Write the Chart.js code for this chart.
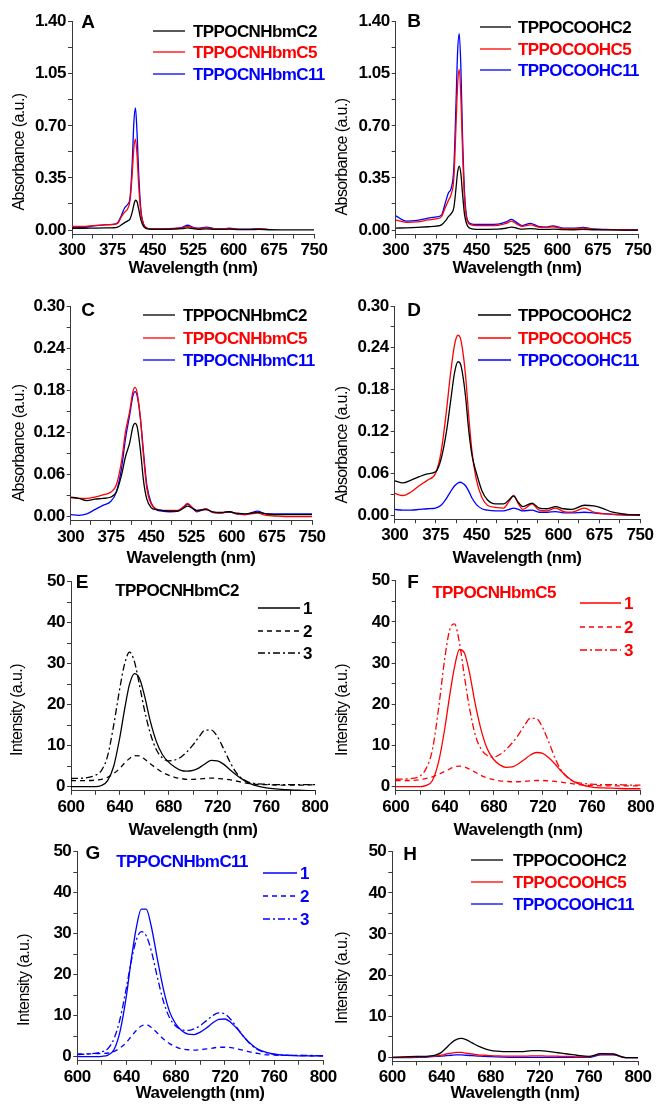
<!DOCTYPE html>
<html>
<head>
<meta charset="utf-8">
<script src="https://cdn.jsdelivr.net/npm/chart.js@4.4.1/dist/chart.umd.min.js"></script>
<style>
  body { margin: 0; background: #fff; }
  #wrap { position: relative; width: 658px; height: 1107px; overflow: hidden; }
  canvas { position: absolute; }
</style>
</head>
<body>
<div id="wrap"></div>
<script>
// ---- data ----
const waveAB = [300,320,340,360,375,385,392,398,403,408,412,415,418,421,424,428,433,440,450,470,490,505,515,525,535,550,565,580,592,610,630,648,665,690,720,750];
const aC2  = [0.012,0.012,0.013,0.014,0.015,0.02,0.035,0.05,0.06,0.075,0.12,0.17,0.2,0.19,0.14,0.07,0.025,0.008,0.005,0.005,0.006,0.009,0.014,0.009,0.005,0.008,0.004,0.004,0.006,0.003,0.003,0.004,0.002,0.001,0.001,0.001];
const aC5  = [0.025,0.024,0.03,0.035,0.037,0.045,0.09,0.12,0.14,0.2,0.38,0.55,0.61,0.5,0.3,0.12,0.04,0.012,0.008,0.008,0.01,0.015,0.025,0.015,0.01,0.015,0.008,0.007,0.01,0.005,0.005,0.008,0.004,null,null,null];
const aC11 = [0.02,0.018,0.028,0.035,0.038,0.05,0.1,0.15,0.17,0.22,0.45,0.72,0.82,0.65,0.38,0.14,0.04,0.012,0.008,0.008,0.011,0.018,0.032,0.018,0.012,0.02,0.01,0.008,0.012,0.006,0.006,0.01,0.004,null,null,null];
const bC2  = [0.013,0.015,0.018,0.022,0.026,0.035,0.06,0.09,0.11,0.15,0.28,0.39,0.43,0.38,0.25,0.1,0.03,0.01,0.005,0.005,0.006,0.012,0.02,0.012,0.006,0.01,0.005,0.004,0.006,0.003,0.002,0.004,0.002,0.001,0,0];
const bC5  = [0.067,0.052,0.055,0.068,0.075,0.09,0.15,0.2,0.24,0.35,0.7,0.98,1.08,0.9,0.55,0.2,0.06,0.035,0.03,0.03,0.032,0.045,0.06,0.04,0.025,0.035,0.02,0.018,0.022,0.01,0.009,0.013,0.006,0.003,0.002,0.001];
const bC11 = [0.095,0.06,0.065,0.08,0.088,0.1,0.18,0.25,0.28,0.42,0.85,1.2,1.32,1.1,0.65,0.24,0.07,0.042,0.038,0.038,0.04,0.055,0.072,0.05,0.03,0.045,0.025,0.02,0.028,0.013,0.012,0.018,0.008,0.004,0.002,0.001];

const waveCD = [300,315,330,345,360,375,385,395,402,410,416,420,424,430,436,442,450,460,470,485,500,510,518,527,535,552,565,580,595,610,625,648,665,680,700,725,750];
const cC2  = [0.028,0.026,0.023,0.025,0.026,0.028,0.035,0.06,0.085,0.105,0.128,0.133,0.128,0.095,0.05,0.025,0.013,0.01,0.009,0.008,0.008,0.012,0.015,0.012,0.009,0.01,0.007,0.006,0.007,0.005,0.004,0.006,0.004,0.003,0.003,0.003,0.003];
const cC5  = [0.027,0.026,0.026,0.028,0.031,0.035,0.045,0.08,0.12,0.15,0.178,0.184,0.176,0.14,0.085,0.04,0.018,0.011,0.009,0.009,0.009,0.014,0.019,0.013,0.008,0.011,0.006,0.005,0.007,0.004,0.003,0.005,0.002,0.001,0,0,0];
const cC11 = [0.003,0.002,0.004,0.01,0.016,0.022,0.035,0.07,0.11,0.145,0.172,0.178,0.172,0.14,0.09,0.045,0.02,0.01,0.008,0.007,0.008,0.013,0.018,0.012,0.007,0.011,0.006,0.005,0.007,0.004,0.003,0.008,0.004,0.004,0.004,0.004,0.004];
const dC2  = [0.049,0.046,0.05,0.055,0.059,0.062,0.08,0.12,0.16,0.205,0.22,0.218,0.205,0.17,0.12,0.085,0.06,0.035,0.022,0.016,0.016,0.022,0.027,0.018,0.012,0.017,0.01,0.009,0.012,0.009,0.008,0.014,0.013,0.01,0.004,0.001,0];
const dC5  = [0.031,0.028,0.033,0.042,0.05,0.06,0.09,0.15,0.2,0.245,0.258,0.255,0.24,0.2,0.14,0.09,0.05,0.025,0.014,0.011,0.01,0.02,0.028,0.016,0.008,0.016,0.007,0.006,0.01,0.005,0.004,0.01,0.004,0.002,0.001,0,0];
const dC11 = [0.008,0.007,0.007,0.008,0.009,0.01,0.014,0.024,0.033,0.042,0.046,0.047,0.046,0.042,0.034,0.024,0.015,0.009,0.007,0.006,0.006,0.008,0.01,0.008,0.006,0.007,0.004,0.004,0.005,0.003,0.003,0.004,0.003,0.002,0.001,0,0];

const waveEH = [600,610,620,625,630,635,640,644,648,652,656,660,665,670,675,680,685,690,695,700,705,710,715,720,725,730,735,740,745,750,760,770,780,790,800];
const e1 = [0,0,0,0.3,1.5,5,12,19,25,27.6,26.5,22.5,16,11,7.8,6,4.8,4,3.8,4,4.6,5.6,6.4,6.3,5.5,4.2,3,1.9,1,0.4,-0.3,-0.6,-0.8,-0.9,-1];
const e2 = [1.5,1.5,1.6,1.8,2.3,3.2,4.5,5.8,6.9,7.6,7.5,6.8,5.6,4.5,3.5,2.8,2.3,2,1.8,1.8,1.9,2,2.1,2,1.9,1.7,1.4,1.1,0.8,0.6,0.5,0.4,0.4,0.4,0.5];
const e3 = [2,2.1,2.8,4,7.5,15,24,30,32.8,30.5,25,19,13,9,7,6.3,6.5,7.2,8.5,10.2,12.2,13.8,13.8,12.2,9.3,6.2,3.6,2,1.2,0.8,0.6,0.5,0.5,0.5,0.5];
const f1 = [0,0,0,0.3,1.5,6,14,22,29,33.3,32.5,28,20,13.5,9,6.6,5.3,4.7,4.8,5.5,6.6,7.7,8.3,8.1,7,5.5,3.8,2.4,1.3,0.6,-0.1,-0.3,-0.4,-0.5,-0.5];
const f2 = [1.5,1.5,1.7,2,2.4,3,3.7,4.3,4.8,5,4.8,4.3,3.5,2.7,2.1,1.7,1.4,1.3,1.2,1.2,1.3,1.4,1.5,1.5,1.4,1.3,1.1,0.9,0.7,0.5,0.3,0.2,0.2,0.2,0.2];
const f3 = [1.8,1.9,2.6,4.5,9,19,31,38,39.5,35,27,19.5,12.5,9,7.5,7.2,7.8,9,10.6,12.5,14.8,16.6,16.5,14.3,10.8,7,4,2.3,1.3,0.9,0.6,0.5,0.5,0.4,0.4];
const g1 = [0,0,0.1,0.4,1.8,6.5,15,24,31.5,36,36,32,24,16.5,11,8,6.3,5.5,5.4,6,7,8.2,9.1,9.2,8.3,6.8,5,3.4,2.2,1.4,0.6,0.3,0.2,0.2,0.2];
const g2 = [0.7,0.7,0.8,0.9,1.3,2.2,3.5,5,6.4,7.5,7.8,7.2,5.8,4.3,3.2,2.4,1.9,1.7,1.6,1.7,1.9,2.1,2.3,2.3,2.2,1.9,1.6,1.2,0.9,0.6,0.4,0.3,0.3,0.2,0.2];
const g3 = [0.5,0.7,1.2,2,4.5,9.5,17,23.5,28.5,30.5,29.5,26,19.5,13.5,9.5,7.5,6.6,6.4,6.8,7.6,8.8,10,10.7,10.4,9,7,5,3.3,2,1.3,0.6,0.4,0.3,0.3,0.2];
const hC2  = [0,0.1,0.2,0.2,0.3,0.5,1.2,2.3,3.5,4.3,4.6,4.3,3.5,2.7,2.1,1.7,1.5,1.4,1.4,1.4,1.4,1.5,1.6,1.6,1.5,1.3,1.1,0.9,0.7,0.5,0.2,0.9,0.8,-0.1,-0.1];
const hC5  = [0,0,0.1,0.1,0.2,0.3,0.5,0.8,1,1.2,1.2,1,0.8,0.6,0.5,0.4,0.35,0.3,0.3,0.3,0.3,0.3,0.35,0.35,0.3,0.3,0.25,0.2,0.2,0.1,0.1,0.8,0.7,-0.1,-0.1];
const hC11 = [-0.1,-0.1,0,0,0.1,0.2,0.3,0.4,0.5,0.6,0.6,0.5,0.4,0.3,0.2,0.15,0.1,0.05,0,0,0,0,0,0,0,0,0,0,0,0,0,0.6,0.6,-0.1,-0.1];

const amideNames = ['TPPOCNHbmC2', 'TPPOCNHbmC5', 'TPPOCNHbmC11'];
const esterNames = ['TPPOCOOHC2', 'TPPOCOOHC5', 'TPPOCOOHC11'];
const runNames = ['1', '2', '3'];

// ---- layout / styling ----
const FONT = "'Liberation Sans', Arial, Helvetica, sans-serif";
const BLACK = '#000000', RED = '#ff0000', BLUE = '#0000ff';
const SOLID = [], DASH = [5, 4], DASHDOT = [7, 3, 2, 3];

function pts(xs, ys) {
  return xs.map((x, i) => ({ x: x, y: ys[i] }));
}

function ds(label, xs, ys, color, dash) {
  return {
    label: label, data: pts(xs, ys), borderColor: color, backgroundColor: color,
    borderWidth: 1.3, borderDash: dash, pointRadius: 0, fill: false,
    cubicInterpolationMode: 'monotone', spanGaps: false
  };
}

const L = [0, 345], R = [329, 329]; // canvas x, width for left / right column

const panels = [
  { letter: 'A', box: [0, 0, 345, 285], area: [72, 21.7, 314, 234.5], y: [-0.03, 1.4, 0.175, 0.35, 2],
    x: [300, 750, 37.5, 75], ytitle: 'Absorbance (a.u.)', letterPos: [88, 23], xt: [193, 268], yt: [20, 152],
    sets: [ds(amideNames[0], waveAB, aC2, BLACK, SOLID), ds(amideNames[1], waveAB, aC5, RED, SOLID), ds(amideNames[2], waveAB, aC11, BLUE, SOLID)],
    legend: { x1: 153, x2: 185, tx: 193, ys: [31, 52, 74] } },
  { letter: 'B', box: [329, 0, 329, 285], area: [395.7, 21.7, 638, 234.5], y: [-0.03, 1.4, 0.175, 0.35, 2],
    x: [300, 750, 37.5, 75], ytitle: 'Absorbance (a.u.)', letterPos: [414, 22], xt: [517, 268], yt: [343, 157],
    sets: [ds(esterNames[0], waveAB, bC2, BLACK, SOLID), ds(esterNames[1], waveAB, bC5, RED, SOLID), ds(esterNames[2], waveAB, bC11, BLUE, SOLID)],
    legend: { x1: 480, x2: 511, tx: 518, ys: [27, 49, 70] } },
  { letter: 'C', box: [0, 283, 345, 290], area: [70.7, 306, 312, 520.9], y: [-0.006, 0.3, 0.03, 0.06, 2],
    x: [300, 750, 37.5, 75], ytitle: 'Absorbance (a.u.)', letterPos: [88, 311], xt: [191, 558], yt: [20, 443],
    sets: [ds(amideNames[0], waveCD, cC2, BLACK, SOLID), ds(amideNames[1], waveCD, cC5, RED, SOLID), ds(amideNames[2], waveCD, cC11, BLUE, SOLID)],
    legend: { x1: 143, x2: 175, tx: 183, ys: [315, 338, 360] } },
  { letter: 'D', box: [329, 283, 329, 290], area: [394.7, 306, 640, 519.2], y: [-0.006, 0.3, 0.03, 0.06, 2],
    x: [300, 750, 37.5, 75], ytitle: 'Absorbance (a.u.)', letterPos: [414, 311], xt: [517, 558], yt: [343, 445],
    sets: [ds(esterNames[0], waveCD, dC2, BLACK, SOLID), ds(esterNames[1], waveCD, dC5, RED, SOLID), ds(esterNames[2], waveCD, dC11, BLUE, SOLID)],
    legend: { x1: 478, x2: 511, tx: 518, ys: [315, 338, 360] } },
  { letter: 'E', box: [0, 560, 345, 280], area: [71, 581.7, 315, 790.8], y: [-1, 50, 5, 10, 0],
    x: [600, 800, 20, 40], ytitle: 'Intensity (a.u.)', letterPos: [82, 583], xt: [193, 830], yt: [18, 710],
    sub: { text: amideNames[0], color: BLACK, x: 177, y: 591 },
    sets: [ds(runNames[0], waveEH, e1, BLACK, SOLID), ds(runNames[1], waveEH, e2, BLACK, DASH), ds(runNames[2], waveEH, e3, BLACK, DASHDOT)],
    legend: { x1: 258, x2: 300, tx: 303, ys: [608, 631, 653] } },
  { letter: 'F', box: [329, 560, 329, 280], area: [395.7, 580.7, 640.7, 790.8], y: [-1, 50, 5, 10, 0],
    x: [600, 800, 20, 40], ytitle: 'Intensity (a.u.)', letterPos: [413, 583], xt: [518, 830], yt: [343, 710],
    sub: { text: amideNames[1], color: RED, x: 494, y: 593 },
    sets: [ds(runNames[0], waveEH, f1, RED, SOLID), ds(runNames[1], waveEH, f2, RED, DASH), ds(runNames[2], waveEH, f3, RED, DASHDOT)],
    legend: { x1: 580, x2: 621, tx: 624, ys: [603, 627, 650] } },
  { letter: 'G', box: [0, 830, 345, 277], area: [77.3, 851.7, 323.3, 1060.8], y: [-1, 50, 5, 10, 0],
    x: [600, 800, 20, 40], ytitle: 'Intensity (a.u.)', letterPos: [93, 854], xt: [200, 1093], yt: [25, 980],
    sub: { text: amideNames[2], color: BLUE, x: 182, y: 862 },
    sets: [ds(runNames[0], waveEH, g1, BLUE, SOLID), ds(runNames[1], waveEH, g2, BLUE, DASH), ds(runNames[2], waveEH, g3, BLUE, DASHDOT)],
    legend: { x1: 263, x2: 297, tx: 300, ys: [873, 896, 919] } },
  { letter: 'H', box: [329, 830, 329, 277], area: [392.3, 851.7, 638, 1061.4], y: [-1, 50, 5, 10, 0],
    x: [600, 800, 20, 40], ytitle: 'Intensity (a.u.)', letterPos: [410, 855], xt: [515, 1093], yt: [343, 978],
    sets: [ds(esterNames[0], waveEH, hC2, BLACK, SOLID), ds(esterNames[1], waveEH, hC5, RED, SOLID), ds(esterNames[2], waveEH, hC11, BLUE, SOLID)],
    legend: { x1: 471, x2: 503, tx: 513, ys: [860, 882, 904] } }
];

function axis(min, max, step, major, digits, fit) {
  return {
    type: 'linear', min: min, max: max,
    border: { display: true, color: '#3a3a3a', width: 1 },
    grid: { drawOnChartArea: false, drawTicks: true, tickLength: 4, tickColor: '#3a3a3a' },
    ticks: {
      stepSize: step, includeBounds: false, autoSkip: false, maxRotation: 0, minRotation: 0,
      padding: 2, color: '#000',
      font: { family: FONT, size: 17, weight: 'bold' },
      callback: function (v) {
        if (Math.abs(v / major - Math.round(v / major)) > 1e-6) return '';
        if (Math.abs(v) < 1e-9) v = 0;
        return v.toFixed(digits);
      }
    },
    afterFit: fit
  };
}

function textPlugin(p) {
  return {
    id: 'panelText' + p.letter,
    beforeDraw(chart) {
      chart.ctx.letterSpacing = '-0.5px';
    },
    afterDraw(chart) {
      const ctx = chart.ctx;
      const ox = p.box[0], oy = p.box[1];
      ctx.save();
      ctx.textBaseline = 'middle';
      ctx.fillStyle = '#000';

      // panel letter
      ctx.letterSpacing = '0px';
      ctx.font = 'bold 19px ' + FONT;
      ctx.textAlign = 'center';
      ctx.fillText(p.letter, p.letterPos[0] - ox, p.letterPos[1] - oy);

      // x title
      ctx.letterSpacing = '-0.5px';
      ctx.font = 'bold 17px ' + FONT;
      ctx.fillText('Wavelength (nm)', p.xt[0] - ox, p.xt[1] - oy);

      // y title
      ctx.save();
      ctx.translate(p.yt[0] - ox, p.yt[1] - oy);
      ctx.rotate(-Math.PI / 2);
      ctx.letterSpacing = '-0.6px';
      ctx.font = '16px ' + FONT;
      ctx.fillText(p.ytitle, 0, 0);
      ctx.restore();

      // subtitle
      if (p.sub) {
        ctx.fillStyle = p.sub.color;
        ctx.letterSpacing = '-0.6px';
        ctx.font = 'bold 17px ' + FONT;
        ctx.fillText(p.sub.text, p.sub.x - ox, p.sub.y - oy);
      }

      // legend
      const lg = p.legend;
      chart.data.datasets.forEach((d, i) => {
        const yy = lg.ys[i] - oy;
        ctx.save();
        ctx.strokeStyle = d.borderColor;
        ctx.lineWidth = d.borderWidth;
        ctx.setLineDash(d.borderDash || []);
        ctx.beginPath();
        ctx.moveTo(lg.x1 - ox, yy);
        ctx.lineTo(lg.x2 - ox, yy);
        ctx.stroke();
        ctx.restore();
        ctx.fillStyle = d.borderColor;
        ctx.textAlign = 'left';
        ctx.letterSpacing = '-0.6px';
        ctx.font = 'bold 17px ' + FONT;
        ctx.fillText(d.label, lg.tx - ox, yy + 1);
      });
      ctx.restore();
    }
  };
}

const wrap = document.getElementById('wrap');

panels.forEach(p => {
  const [cx, cy, cw, ch] = p.box;
  const [l, t, r, b] = p.area;
  const cv = document.createElement('canvas');
  cv.width = cw; cv.height = ch;
  cv.style.left = cx + 'px'; cv.style.top = cy + 'px';
  cv.style.width = cw + 'px'; cv.style.height = ch + 'px';
  wrap.appendChild(cv);

  new Chart(cv, {
    type: 'line',
    data: { datasets: p.sets },
    options: {
      responsive: false,
      animation: false,
      devicePixelRatio: 1,
      parsing: true,
      layout: { padding: { left: 0, bottom: 0, top: t - cy, right: cx + cw - r } },
      plugins: { legend: { display: false }, tooltip: { enabled: false } },
      scales: {
        x: axis(p.x[0], p.x[1], p.x[2], p.x[3], 0, s => { s.height = cy + ch - b; }),
        y: axis(p.y[0], p.y[1], p.y[2], p.y[3], p.y[4], s => { s.width = l - cx; })
      }
    },
    plugins: [textPlugin(p)]
  });
});
</script>
</body>
</html>
